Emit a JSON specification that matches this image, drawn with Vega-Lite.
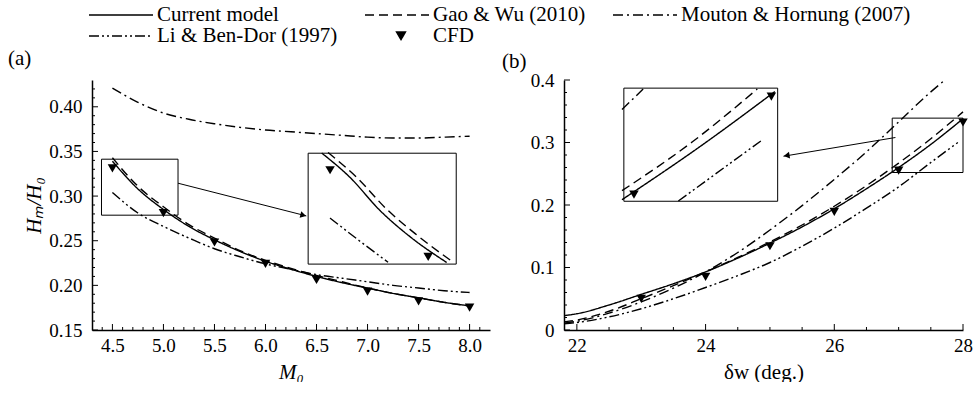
{
  "$schema": "https://vega.github.io/schema/vega-lite/v6.json",
  "padding": {"left": 8, "top": 4, "right": 0, "bottom": 0},
  "spacing": 12,
  "resolve": {"scale": {"strokeDash": "shared"}, "legend": {"strokeDash": "shared"}},
  "config": {
    "view": {"stroke": null},
    "font": "Liberation Serif",
    "style": {"guide-label": {"font": "Liberation Serif"}, "guide-title": {"font": "Liberation Serif"}, "group-title": {"font": "Liberation Serif"}},
    "axis": {"grid": false, "ticks": false, "domainColor": "black", "domainWidth": 1.5, "labelColor": "black", "labelFont": "Liberation Serif", "labelFontSize": 19, "titleFont": "Liberation Serif", "titleFontSize": 21, "titleFontWeight": "normal", "titleColor": "black", "labelOverlap": false, "labelFlush": false},
    "legend": {"labelFont": "Liberation Serif"},
    "title": {"font": "Liberation Serif", "fontSize": 21, "fontWeight": "normal", "color": "black"}
  },
  "datasets": {
    "a_lines": [
      {"model": "Current model", "x": 4.5, "y": 0.339}, {"model": "Current model", "x": 4.75, "y": 0.308}, {"model": "Current model", "x": 5.0, "y": 0.285}, {"model": "Current model", "x": 5.25, "y": 0.266}, {"model": "Current model", "x": 5.5, "y": 0.251}, {"model": "Current model", "x": 5.75, "y": 0.238}, {"model": "Current model", "x": 6.0, "y": 0.227}, {"model": "Current model", "x": 6.25, "y": 0.218}, {"model": "Current model", "x": 6.5, "y": 0.210}, {"model": "Current model", "x": 6.75, "y": 0.203}, {"model": "Current model", "x": 7.0, "y": 0.197}, {"model": "Current model", "x": 7.25, "y": 0.191}, {"model": "Current model", "x": 7.5, "y": 0.186}, {"model": "Current model", "x": 7.75, "y": 0.181}, {"model": "Current model", "x": 8.0, "y": 0.177},
      {"model": "Gao & Wu (2010)", "x": 4.5, "y": 0.343}, {"model": "Gao & Wu (2010)", "x": 4.75, "y": 0.311}, {"model": "Gao & Wu (2010)", "x": 5.0, "y": 0.288}, {"model": "Gao & Wu (2010)", "x": 5.25, "y": 0.268}, {"model": "Gao & Wu (2010)", "x": 5.5, "y": 0.253}, {"model": "Gao & Wu (2010)", "x": 5.75, "y": 0.239}, {"model": "Gao & Wu (2010)", "x": 6.0, "y": 0.228}, {"model": "Gao & Wu (2010)", "x": 6.25, "y": 0.219}, {"model": "Gao & Wu (2010)", "x": 6.5, "y": 0.211}, {"model": "Gao & Wu (2010)", "x": 6.75, "y": 0.204}, {"model": "Gao & Wu (2010)", "x": 7.0, "y": 0.197}, {"model": "Gao & Wu (2010)", "x": 7.25, "y": 0.191}, {"model": "Gao & Wu (2010)", "x": 7.5, "y": 0.186}, {"model": "Gao & Wu (2010)", "x": 7.75, "y": 0.181}, {"model": "Gao & Wu (2010)", "x": 8.0, "y": 0.177},
      {"model": "Mouton & Hornung (2007)", "x": 4.5, "y": 0.421}, {"model": "Mouton & Hornung (2007)", "x": 4.75, "y": 0.405}, {"model": "Mouton & Hornung (2007)", "x": 5.0, "y": 0.393}, {"model": "Mouton & Hornung (2007)", "x": 5.25, "y": 0.386}, {"model": "Mouton & Hornung (2007)", "x": 5.5, "y": 0.381}, {"model": "Mouton & Hornung (2007)", "x": 5.75, "y": 0.377}, {"model": "Mouton & Hornung (2007)", "x": 6.0, "y": 0.374}, {"model": "Mouton & Hornung (2007)", "x": 6.25, "y": 0.372}, {"model": "Mouton & Hornung (2007)", "x": 6.5, "y": 0.370}, {"model": "Mouton & Hornung (2007)", "x": 6.75, "y": 0.368}, {"model": "Mouton & Hornung (2007)", "x": 7.0, "y": 0.366}, {"model": "Mouton & Hornung (2007)", "x": 7.25, "y": 0.365}, {"model": "Mouton & Hornung (2007)", "x": 7.5, "y": 0.365}, {"model": "Mouton & Hornung (2007)", "x": 7.75, "y": 0.366}, {"model": "Mouton & Hornung (2007)", "x": 8.0, "y": 0.367},
      {"model": "Li & Ben-Dor (1997)", "x": 4.5, "y": 0.304}, {"model": "Li & Ben-Dor (1997)", "x": 4.75, "y": 0.281}, {"model": "Li & Ben-Dor (1997)", "x": 5.0, "y": 0.266}, {"model": "Li & Ben-Dor (1997)", "x": 5.25, "y": 0.253}, {"model": "Li & Ben-Dor (1997)", "x": 5.5, "y": 0.241}, {"model": "Li & Ben-Dor (1997)", "x": 5.75, "y": 0.232}, {"model": "Li & Ben-Dor (1997)", "x": 6.0, "y": 0.224}, {"model": "Li & Ben-Dor (1997)", "x": 6.25, "y": 0.218}, {"model": "Li & Ben-Dor (1997)", "x": 6.5, "y": 0.212}, {"model": "Li & Ben-Dor (1997)", "x": 6.75, "y": 0.208}, {"model": "Li & Ben-Dor (1997)", "x": 7.0, "y": 0.204}, {"model": "Li & Ben-Dor (1997)", "x": 7.25, "y": 0.200}, {"model": "Li & Ben-Dor (1997)", "x": 7.5, "y": 0.197}, {"model": "Li & Ben-Dor (1997)", "x": 7.75, "y": 0.194}, {"model": "Li & Ben-Dor (1997)", "x": 8.0, "y": 0.192}
    ],
    "a_cfd": [
      {"x": 4.5, "y": 0.331}, {"x": 5.0, "y": 0.281}, {"x": 5.5, "y": 0.248}, {"x": 6.0, "y": 0.224}, {"x": 6.5, "y": 0.206}, {"x": 7.0, "y": 0.193}, {"x": 7.5, "y": 0.182}, {"x": 8.0, "y": 0.175}
    ],
    "a_boxes": [
      {"x": 4.393, "x2": 5.143, "y": 0.2786, "y2": 0.3413},
      {"x": 6.418, "x2": 7.869, "y": 0.2238, "y2": 0.348}
    ],
    "a_arrow": [{"x": 5.143, "x2": 6.40, "y": 0.3144, "y2": 0.2778}],
    "a_head": [{"x": 6.37, "y": 0.2785}],
    "a_xticks_major": [{"v": 4.5}, {"v": 5.0}, {"v": 5.5}, {"v": 6.0}, {"v": 6.5}, {"v": 7.0}, {"v": 7.5}, {"v": 8.0}],
    "a_xticks_minor": [{"v": 4.4}, {"v": 4.6}, {"v": 4.7}, {"v": 4.8}, {"v": 4.9}, {"v": 5.1}, {"v": 5.2}, {"v": 5.3}, {"v": 5.4}, {"v": 5.6}, {"v": 5.7}, {"v": 5.8}, {"v": 5.9}, {"v": 6.1}, {"v": 6.2}, {"v": 6.3}, {"v": 6.4}, {"v": 6.6}, {"v": 6.7}, {"v": 6.8}, {"v": 6.9}, {"v": 7.1}, {"v": 7.2}, {"v": 7.3}, {"v": 7.4}, {"v": 7.6}, {"v": 7.7}, {"v": 7.8}, {"v": 7.9}, {"v": 8.1}],
    "a_yticks_major": [{"v": 0.15}, {"v": 0.20}, {"v": 0.25}, {"v": 0.30}, {"v": 0.35}, {"v": 0.40}],
    "a_yticks_minor": [{"v": 0.16}, {"v": 0.17}, {"v": 0.18}, {"v": 0.19}, {"v": 0.21}, {"v": 0.22}, {"v": 0.23}, {"v": 0.24}, {"v": 0.26}, {"v": 0.27}, {"v": 0.28}, {"v": 0.29}, {"v": 0.31}, {"v": 0.32}, {"v": 0.33}, {"v": 0.34}, {"v": 0.36}, {"v": 0.37}, {"v": 0.38}, {"v": 0.39}, {"v": 0.41}, {"v": 0.42}],
    "a_inset_lines": [
      {"model": "Current model", "x": 4.457, "y": 0.3407}, {"model": "Current model", "x": 4.599, "y": 0.3270}, {"model": "Current model", "x": 4.750, "y": 0.3083}, {"model": "Current model", "x": 4.901, "y": 0.2935}, {"model": "Current model", "x": 5.086, "y": 0.2789},
      {"model": "Gao & Wu (2010)", "x": 4.489, "y": 0.3410}, {"model": "Gao & Wu (2010)", "x": 4.633, "y": 0.3270}, {"model": "Gao & Wu (2010)", "x": 4.784, "y": 0.3090}, {"model": "Gao & Wu (2010)", "x": 4.935, "y": 0.2945}, {"model": "Gao & Wu (2010)", "x": 5.119, "y": 0.2790},
      {"model": "Li & Ben-Dor (1997)", "x": 4.499, "y": 0.3040}, {"model": "Li & Ben-Dor (1997)", "x": 4.646, "y": 0.2912}, {"model": "Li & Ben-Dor (1997)", "x": 4.791, "y": 0.2790}
    ],
    "a_inset_cfd": [{"x": 4.499, "y": 0.331}, {"x": 4.993, "y": 0.282}],
    "b_lines": [
      {"model": "Current model", "x": 21.8, "y": 0.023}, {"model": "Current model", "x": 22, "y": 0.026}, {"model": "Current model", "x": 22.5, "y": 0.040}, {"model": "Current model", "x": 23, "y": 0.057}, {"model": "Current model", "x": 23.5, "y": 0.074}, {"model": "Current model", "x": 24, "y": 0.093}, {"model": "Current model", "x": 24.5, "y": 0.115}, {"model": "Current model", "x": 25, "y": 0.139}, {"model": "Current model", "x": 25.5, "y": 0.165}, {"model": "Current model", "x": 26, "y": 0.194}, {"model": "Current model", "x": 26.5, "y": 0.226}, {"model": "Current model", "x": 27, "y": 0.260}, {"model": "Current model", "x": 27.5, "y": 0.297}, {"model": "Current model", "x": 28, "y": 0.338},
      {"model": "Gao & Wu (2010)", "x": 21.8, "y": 0.013}, {"model": "Gao & Wu (2010)", "x": 22, "y": 0.016}, {"model": "Gao & Wu (2010)", "x": 22.5, "y": 0.030}, {"model": "Gao & Wu (2010)", "x": 23, "y": 0.050}, {"model": "Gao & Wu (2010)", "x": 23.5, "y": 0.071}, {"model": "Gao & Wu (2010)", "x": 24, "y": 0.093}, {"model": "Gao & Wu (2010)", "x": 24.5, "y": 0.116}, {"model": "Gao & Wu (2010)", "x": 25, "y": 0.141}, {"model": "Gao & Wu (2010)", "x": 25.5, "y": 0.168}, {"model": "Gao & Wu (2010)", "x": 26, "y": 0.198}, {"model": "Gao & Wu (2010)", "x": 26.5, "y": 0.231}, {"model": "Gao & Wu (2010)", "x": 27, "y": 0.267}, {"model": "Gao & Wu (2010)", "x": 27.5, "y": 0.306}, {"model": "Gao & Wu (2010)", "x": 28, "y": 0.349},
      {"model": "Mouton & Hornung (2007)", "x": 21.8, "y": 0.011}, {"model": "Mouton & Hornung (2007)", "x": 22, "y": 0.014}, {"model": "Mouton & Hornung (2007)", "x": 22.5, "y": 0.027}, {"model": "Mouton & Hornung (2007)", "x": 23, "y": 0.045}, {"model": "Mouton & Hornung (2007)", "x": 23.5, "y": 0.067}, {"model": "Mouton & Hornung (2007)", "x": 24, "y": 0.093}, {"model": "Mouton & Hornung (2007)", "x": 24.5, "y": 0.124}, {"model": "Mouton & Hornung (2007)", "x": 25, "y": 0.160}, {"model": "Mouton & Hornung (2007)", "x": 25.5, "y": 0.199}, {"model": "Mouton & Hornung (2007)", "x": 26, "y": 0.241}, {"model": "Mouton & Hornung (2007)", "x": 26.5, "y": 0.285}, {"model": "Mouton & Hornung (2007)", "x": 27, "y": 0.333}, {"model": "Mouton & Hornung (2007)", "x": 27.5, "y": 0.381}, {"model": "Mouton & Hornung (2007)", "x": 27.72, "y": 0.400},
      {"model": "Li & Ben-Dor (1997)", "x": 21.8, "y": 0.010}, {"model": "Li & Ben-Dor (1997)", "x": 22, "y": 0.012}, {"model": "Li & Ben-Dor (1997)", "x": 22.5, "y": 0.021}, {"model": "Li & Ben-Dor (1997)", "x": 23, "y": 0.034}, {"model": "Li & Ben-Dor (1997)", "x": 23.5, "y": 0.050}, {"model": "Li & Ben-Dor (1997)", "x": 24, "y": 0.068}, {"model": "Li & Ben-Dor (1997)", "x": 24.5, "y": 0.087}, {"model": "Li & Ben-Dor (1997)", "x": 25, "y": 0.108}, {"model": "Li & Ben-Dor (1997)", "x": 25.5, "y": 0.134}, {"model": "Li & Ben-Dor (1997)", "x": 26, "y": 0.163}, {"model": "Li & Ben-Dor (1997)", "x": 26.5, "y": 0.195}, {"model": "Li & Ben-Dor (1997)", "x": 27, "y": 0.229}, {"model": "Li & Ben-Dor (1997)", "x": 27.5, "y": 0.268}, {"model": "Li & Ben-Dor (1997)", "x": 27.92, "y": 0.300}
    ],
    "b_cfd": [
      {"x": 23, "y": 0.050}, {"x": 24, "y": 0.085}, {"x": 25, "y": 0.134}, {"x": 26, "y": 0.189}, {"x": 27, "y": 0.255}, {"x": 28, "y": 0.332}
    ],
    "b_boxes": [
      {"x": 26.90, "x2": 28.0, "y": 0.252, "y2": 0.339},
      {"x": 22.73, "x2": 25.12, "y": 0.206, "y2": 0.387}
    ],
    "b_arrow": [{"x": 26.95, "x2": 25.21, "y": 0.308, "y2": 0.278}],
    "b_head": [{"x": 25.26, "y": 0.279}],
    "b_xticks_major": [{"v": 22}, {"v": 24}, {"v": 26}, {"v": 28}],
    "b_xticks_minor": [{"v": 22.5}, {"v": 23}, {"v": 23.5}, {"v": 24.5}, {"v": 25}, {"v": 25.5}, {"v": 26.5}, {"v": 27}, {"v": 27.5}],
    "b_yticks_major": [{"v": 0}, {"v": 0.1}, {"v": 0.2}, {"v": 0.3}, {"v": 0.4}],
    "b_yticks_minor": [{"v": 0.02}, {"v": 0.04}, {"v": 0.06}, {"v": 0.08}, {"v": 0.12}, {"v": 0.14}, {"v": 0.16}, {"v": 0.18}, {"v": 0.22}, {"v": 0.24}, {"v": 0.26}, {"v": 0.28}, {"v": 0.32}, {"v": 0.34}, {"v": 0.36}, {"v": 0.38}],
    "b_inset_lines": [
      {"model": "Mouton & Hornung (2007)", "x": 26.90, "y": 0.323}, {"model": "Mouton & Hornung (2007)", "x": 27.05, "y": 0.339},
      {"model": "Gao & Wu (2010)", "x": 26.90, "y": 0.260}, {"model": "Gao & Wu (2010)", "x": 27.40, "y": 0.298}, {"model": "Gao & Wu (2010)", "x": 27.86, "y": 0.339},
      {"model": "Current model", "x": 26.90, "y": 0.253}, {"model": "Current model", "x": 27.45, "y": 0.294}, {"model": "Current model", "x": 27.985, "y": 0.337},
      {"model": "Li & Ben-Dor (1997)", "x": 27.30, "y": 0.252}, {"model": "Li & Ben-Dor (1997)", "x": 27.89, "y": 0.299}
    ],
    "b_inset_cfd": [{"x": 26.985, "y": 0.257}, {"x": 27.96, "y": 0.333}]
  },
  "hconcat": [
    {
      "width": 398,
      "height": 250,
      "title": {"text": "(a)", "anchor": "start", "frame": "group", "dx": -84, "dy": 6, "offset": 17},
      "layer": [
        {
          "layer": [
            {
              "data": {"name": "a_lines"},
              "mark": {"type": "line", "interpolate": "monotone", "strokeWidth": 1.4, "color": "black"},
              "encoding": {
                "x": {"field": "x", "type": "quantitative", "title": "M₀", "scale": {"domain": [4.3, 8.2], "nice": false, "zero": false},
                  "axis": {"values": [4.5, 5.0, 5.5, 6.0, 6.5, 7.0, 7.5, 8.0], "tickCount": 50, "format": ".1f",
                    "labelOverlap": false, "labelFlush": false, "ticks": false,
                    "labelPadding": 6, "titlePadding": 6, "titleFontStyle": "italic"}},
                "y": {"field": "y", "type": "quantitative", "title": "Hₘ/H₀", "scale": {"domain": [0.15, 0.43], "nice": false, "zero": false},
                  "axis": {"values": [0.15, 0.2, 0.25, 0.3, 0.35, 0.4], "tickCount": 50, "format": ".2f",
                    "labelOverlap": false, "labelFlush": false, "ticks": false,
                    "labelPadding": 10, "titlePadding": 4, "titleFontStyle": "italic"}},
                "strokeDash": {"field": "model", "type": "nominal",
                  "scale": {"domain": ["Current model", "Gao & Wu (2010)", "Mouton & Hornung (2007)", "Li & Ben-Dor (1997)", "CFD"], "range": [[1, 0], [9, 5], [10, 4, 2, 4], [10, 3, 2, 3, 2, 3], [1, 0]]},
                  "legend": {"title": null, "orient": "none", "legendX": -4, "legendY": -76, "columns": 3, "columnPadding": 24, "rowPadding": 0, "direction": "horizontal",
                    "symbolType": "M-1,0H5.4", "symbolSize": 400, "symbolStrokeWidth": 1.5, "symbolStrokeColor": "black",
                    "labelFont": "Liberation Serif", "labelFontSize": 21, "labelColor": "black", "labelOffset": 47, "labelLimit": 400,
                    "encode": {"symbols": {"update": {
                      "shape": {"signal": "datum.value === 'CFD' ? 'M5.4,-1L7.6,-1L6.5,0.9Z' : 'M-1,0H5.4'"},
                      "fill": {"signal": "datum.value === 'CFD' ? 'black' : 'transparent'"},
                      "stroke": {"value": "black"},
                      "strokeWidth": {"value": 1.5},
                      "opacity": {"value": 1},
                      "size": {"signal": "datum.value === 'CFD' ? 64 : 400"}}}}}}
              }
            },
            {
              "data": {"name": "a_xticks_major"},
              "mark": {"type": "tick", "orient": "vertical", "size": 6, "thickness": 1, "yOffset": -3, "color": "black", "opacity": 1},
              "encoding": {"x": {"field": "v", "type": "quantitative", "title": "M₀"}, "y": {"datum": 0.15, "type": "quantitative", "title": "Hₘ/H₀"}}
            },
            {
              "data": {"name": "a_xticks_minor"},
              "mark": {"type": "tick", "orient": "vertical", "size": 3, "thickness": 1, "yOffset": -1.5, "color": "black", "opacity": 1},
              "encoding": {"x": {"field": "v", "type": "quantitative", "title": "M₀"}, "y": {"datum": 0.15, "type": "quantitative", "title": "Hₘ/H₀"}}
            },
            {
              "data": {"name": "a_yticks_major"},
              "mark": {"type": "tick", "orient": "horizontal", "size": 6, "thickness": 1, "xOffset": 3, "color": "black", "opacity": 1},
              "encoding": {"y": {"field": "v", "type": "quantitative", "title": "Hₘ/H₀"}, "x": {"datum": 4.3, "type": "quantitative", "title": "M₀"}}
            },
            {
              "data": {"name": "a_yticks_minor"},
              "mark": {"type": "tick", "orient": "horizontal", "size": 3, "thickness": 1, "xOffset": 1.5, "color": "black", "opacity": 1},
              "encoding": {"y": {"field": "v", "type": "quantitative", "title": "Hₘ/H₀"}, "x": {"datum": 4.3, "type": "quantitative", "title": "M₀"}}
            },
            {
              "data": {"name": "a_cfd"},
              "mark": {"type": "point", "shape": "triangle-down", "filled": true, "color": "black", "opacity": 1, "size": 90},
              "encoding": {"x": {"field": "x", "type": "quantitative", "title": "M₀"}, "y": {"field": "y", "type": "quantitative", "title": "Hₘ/H₀"}}
            },
            {
              "data": {"name": "a_boxes"},
              "mark": {"type": "rect", "fill": "transparent", "stroke": "black", "strokeWidth": 1},
              "encoding": {"x": {"field": "x", "type": "quantitative", "title": "M₀"}, "x2": {"field": "x2"}, "y": {"field": "y", "type": "quantitative", "title": "Hₘ/H₀"}, "y2": {"field": "y2"}}
            },
            {
              "data": {"name": "a_arrow"},
              "mark": {"type": "rule", "color": "black", "strokeWidth": 1},
              "encoding": {"x": {"field": "x", "type": "quantitative", "title": "M₀"}, "x2": {"field": "x2"}, "y": {"field": "y", "type": "quantitative", "title": "Hₘ/H₀"}, "y2": {"field": "y2"}}
            },
            {
              "data": {"name": "a_head"},
              "mark": {"type": "point", "shape": "triangle-right", "angle": 14, "filled": true, "color": "black", "opacity": 1, "size": 45},
              "encoding": {"x": {"field": "x", "type": "quantitative", "title": "M₀"}, "y": {"field": "y", "type": "quantitative", "title": "Hₘ/H₀"}}
            }
          ]
        },
        {
          "layer": [
            {
              "data": {"name": "a_inset_lines"},
              "mark": {"type": "line", "interpolate": "monotone", "strokeWidth": 1.4, "color": "black"},
              "encoding": {
                "x": {"field": "x", "type": "quantitative", "scale": {"domain": [4.393, 5.143], "range": [217, 366], "nice": false, "zero": false}, "axis": null},
                "y": {"field": "y", "type": "quantitative", "scale": {"domain": [0.2786, 0.3413], "range": [183, 72], "nice": false, "zero": false}, "axis": null},
                "strokeDash": {"field": "model", "type": "nominal",
                  "scale": {"domain": ["Current model", "Gao & Wu (2010)", "Mouton & Hornung (2007)", "Li & Ben-Dor (1997)", "CFD"], "range": [[1, 0], [9, 5], [10, 4, 2, 4], [10, 3, 2, 3, 2, 3], [1, 0]]}}
              }
            },
            {
              "data": {"name": "a_inset_cfd"},
              "mark": {"type": "point", "shape": "triangle-down", "filled": true, "color": "black", "opacity": 1, "size": 90},
              "encoding": {"x": {"field": "x", "type": "quantitative", "axis": null}, "y": {"field": "y", "type": "quantitative", "axis": null}}
            }
          ]
        }
      ],
      "resolve": {"scale": {"x": "independent", "y": "independent"}}
    },
    {
      "width": 399,
      "height": 250,
      "title": {"text": "(b)", "anchor": "start", "frame": "group", "dx": -62, "dy": 18, "offset": 17},
      "layer": [
        {
          "layer": [
            {
              "data": {"name": "b_lines"},
              "mark": {"type": "line", "interpolate": "monotone", "strokeWidth": 1.4, "color": "black"},
              "encoding": {
                "x": {"field": "x", "type": "quantitative", "title": "δw (deg.)", "scale": {"domain": [21.8, 28], "nice": false, "zero": false},
                  "axis": {"values": [22, 24, 26, 28], "tickCount": 50, "format": "d",
                    "labelOverlap": false, "labelFlush": false, "ticks": false,
                    "labelPadding": 6, "titlePadding": 6}},
                "y": {"field": "y", "type": "quantitative", "title": null, "scale": {"domain": [0, 0.4], "nice": false, "zero": false},
                  "axis": {"values": [0, 0.1, 0.2, 0.3, 0.4], "tickCount": 50,
                    "labelExpr": "datum.value == 0 ? '0' : format(datum.value, '.1f')",
                    "labelOverlap": false, "labelFlush": false, "ticks": false,
                    "labelPadding": 10}},
                "strokeDash": {"field": "model", "type": "nominal",
                  "scale": {"domain": ["Current model", "Gao & Wu (2010)", "Mouton & Hornung (2007)", "Li & Ben-Dor (1997)", "CFD"], "range": [[1, 0], [9, 5], [10, 4, 2, 4], [10, 3, 2, 3, 2, 3], [1, 0]]}}
              }
            },
            {
              "data": {"name": "b_xticks_major"},
              "mark": {"type": "tick", "orient": "vertical", "size": 6, "thickness": 1, "yOffset": -3, "color": "black", "opacity": 1},
              "encoding": {"x": {"field": "v", "type": "quantitative", "title": "δw (deg.)"}, "y": {"datum": 0, "type": "quantitative", "title": null}}
            },
            {
              "data": {"name": "b_xticks_minor"},
              "mark": {"type": "tick", "orient": "vertical", "size": 3, "thickness": 1, "yOffset": -1.5, "color": "black", "opacity": 1},
              "encoding": {"x": {"field": "v", "type": "quantitative", "title": "δw (deg.)"}, "y": {"datum": 0, "type": "quantitative", "title": null}}
            },
            {
              "data": {"name": "b_yticks_major"},
              "mark": {"type": "tick", "orient": "horizontal", "size": 6, "thickness": 1, "xOffset": 3, "color": "black", "opacity": 1},
              "encoding": {"y": {"field": "v", "type": "quantitative", "title": null}, "x": {"datum": 21.8, "type": "quantitative", "title": "δw (deg.)"}}
            },
            {
              "data": {"name": "b_yticks_minor"},
              "mark": {"type": "tick", "orient": "horizontal", "size": 3, "thickness": 1, "xOffset": 1.5, "color": "black", "opacity": 1},
              "encoding": {"y": {"field": "v", "type": "quantitative", "title": null}, "x": {"datum": 21.8, "type": "quantitative", "title": "δw (deg.)"}}
            },
            {
              "data": {"name": "b_cfd"},
              "mark": {"type": "point", "shape": "triangle-down", "filled": true, "color": "black", "opacity": 1, "size": 90},
              "encoding": {"x": {"field": "x", "type": "quantitative", "title": "δw (deg.)"}, "y": {"field": "y", "type": "quantitative", "title": null}}
            },
            {
              "data": {"name": "b_boxes"},
              "mark": {"type": "rect", "fill": "transparent", "stroke": "black", "strokeWidth": 1},
              "encoding": {"x": {"field": "x", "type": "quantitative", "title": "δw (deg.)"}, "x2": {"field": "x2"}, "y": {"field": "y", "type": "quantitative", "title": null}, "y2": {"field": "y2"}}
            },
            {
              "data": {"name": "b_arrow"},
              "mark": {"type": "rule", "color": "black", "strokeWidth": 1},
              "encoding": {"x": {"field": "x", "type": "quantitative", "title": "δw (deg.)"}, "x2": {"field": "x2"}, "y": {"field": "y", "type": "quantitative", "title": null}, "y2": {"field": "y2"}}
            },
            {
              "data": {"name": "b_head"},
              "mark": {"type": "point", "shape": "triangle-left", "angle": -9.5, "filled": true, "color": "black", "opacity": 1, "size": 45},
              "encoding": {"x": {"field": "x", "type": "quantitative", "title": "δw (deg.)"}, "y": {"field": "y", "type": "quantitative", "title": null}}
            }
          ]
        },
        {
          "layer": [
            {
              "data": {"name": "b_inset_lines"},
              "mark": {"type": "line", "interpolate": "monotone", "strokeWidth": 1.4, "color": "black"},
              "encoding": {
                "x": {"field": "x", "type": "quantitative", "scale": {"domain": [26.9, 28.0], "range": [58, 213], "nice": false, "zero": false}, "axis": null},
                "y": {"field": "y", "type": "quantitative", "scale": {"domain": [0.252, 0.339], "range": [121, 9], "nice": false, "zero": false}, "axis": null},
                "strokeDash": {"field": "model", "type": "nominal",
                  "scale": {"domain": ["Current model", "Gao & Wu (2010)", "Mouton & Hornung (2007)", "Li & Ben-Dor (1997)", "CFD"], "range": [[1, 0], [9, 5], [10, 4, 2, 4], [10, 3, 2, 3, 2, 3], [1, 0]]}}
              }
            },
            {
              "data": {"name": "b_inset_cfd"},
              "mark": {"type": "point", "shape": "triangle-down", "filled": true, "color": "black", "opacity": 1, "size": 90},
              "encoding": {"x": {"field": "x", "type": "quantitative", "axis": null}, "y": {"field": "y", "type": "quantitative", "axis": null}}
            }
          ]
        }
      ],
      "resolve": {"scale": {"x": "independent", "y": "independent"}}
    }
  ]
}
